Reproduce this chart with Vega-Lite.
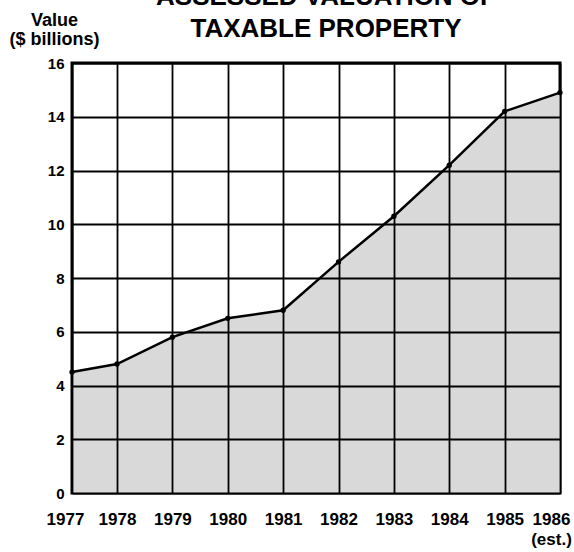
{
  "$schema": "https://vega.github.io/schema/vega-lite/v6.json",
  "width": 488,
  "height": 430,
  "autosize": {"type": "none"},
  "padding": {"left": 72, "top": 63, "right": 14, "bottom": 59},
  "background": "white",
  "title": {
    "text": ["ASSESSED VALUATION OF", "TAXABLE PROPERTY"],
    "font": "Liberation Sans",
    "fontSize": 26,
    "fontWeight": "bold",
    "color": "black",
    "lineHeight": 32,
    "anchor": "middle",
    "frame": "group",
    "baseline": "bottom",
    "dx": 10,
    "dy": 77,
    "offset": 20
  },
  "config": {
    "view": {"stroke": "black", "strokeWidth": 3},
    "font": "Liberation Sans"
  },
  "data": {
    "values": [
      {"year": 1977, "value": 4.5},
      {"year": 1978, "value": 4.8},
      {"year": 1979, "value": 5.8},
      {"year": 1980, "value": 6.5},
      {"year": 1981, "value": 6.8},
      {"year": 1982, "value": 8.6},
      {"year": 1983, "value": 10.3},
      {"year": 1984, "value": 12.2},
      {"year": 1985, "value": 14.2},
      {"year": 1986, "value": 14.9}
    ]
  },
  "encoding": {
    "x": {
      "field": "year",
      "type": "quantitative",
      "scale": {"domain": [1977, 1978, 1986], "range": [0, 45, 488], "nice": false, "zero": false},
      "axis": {
        "title": null,
        "values": [1977, 1978, 1979, 1980, 1981, 1982, 1983, 1984, 1985, 1986],
        "format": "d",
        "labelExpr": "datum.value == 1986 ? ['1986', '(est.)'] : datum.label",
        "labelFont": "Liberation Sans",
        "labelFontSize": 17,
        "labelFontWeight": "bold",
        "labelColor": "black",
        "labelPadding": 18,
        "labelLineHeight": 20,
        "labelOverlap": false,
        "labelFlush": false,
        "labelOffset": {
          "condition": [
            {"test": "datum.value == 1977", "value": -7},
            {"test": "datum.value == 1986", "value": -9}
          ],
          "value": 0
        },
        "ticks": false,
        "domain": false,
        "grid": true,
        "gridColor": "black",
        "gridWidth": 1.8,
        "gridOpacity": 1,
        "zindex": 1
      }
    },
    "y": {
      "field": "value",
      "type": "quantitative",
      "scale": {"domain": [0, 16], "nice": false},
      "axis": {
        "title": ["Value", "($ billions)"],
        "titleAngle": 0,
        "titleAlign": "center",
        "titleBaseline": "alphabetic",
        "titleX": -18,
        "titleY": -38,
        "titleLineHeight": 19,
        "titleFont": "Liberation Sans",
        "titleFontSize": 18,
        "titleFontWeight": "bold",
        "titleColor": "black",
        "values": [0, 2, 4, 6, 8, 10, 12, 14, 16],
        "labelFont": "Liberation Sans",
        "labelFontSize": 15,
        "labelFontWeight": "bold",
        "labelColor": "black",
        "labelPadding": 8,
        "ticks": false,
        "domain": false,
        "grid": true,
        "gridColor": "black",
        "gridWidth": 1.8,
        "gridOpacity": 1,
        "zindex": 1
      }
    }
  },
  "layer": [
    {"mark": {"type": "area", "color": "#d9d9d9", "opacity": 1}},
    {"mark": {"type": "line", "color": "black", "strokeWidth": 2.5}},
    {"mark": {"type": "point", "filled": true, "color": "black", "size": 28, "opacity": 1}}
  ]
}
